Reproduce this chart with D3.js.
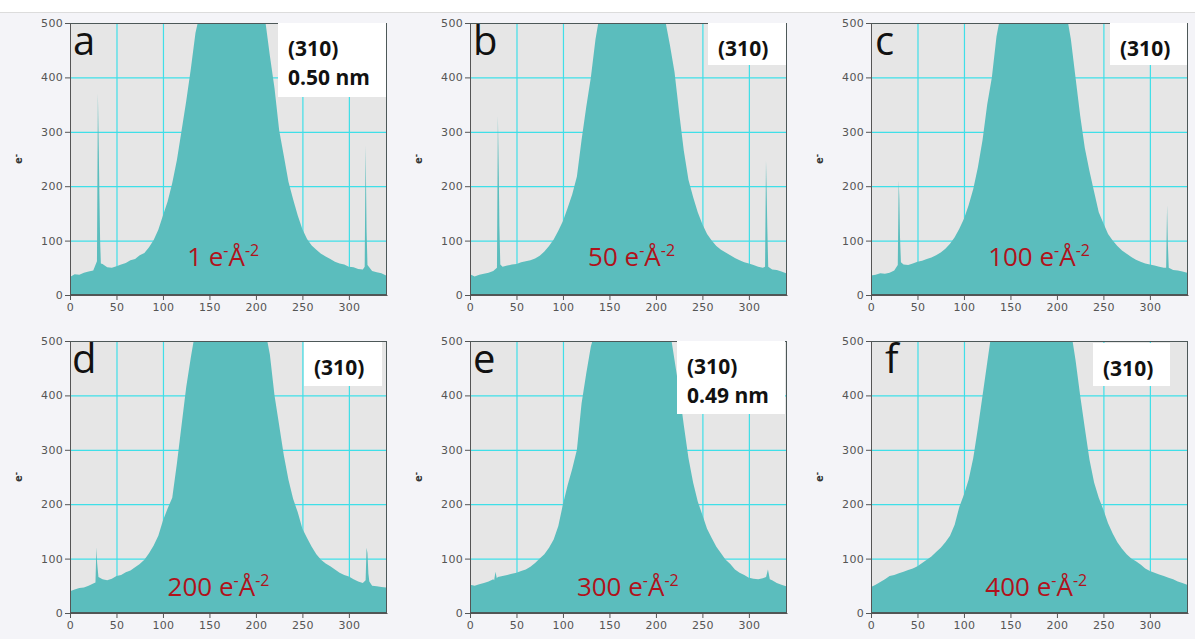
<!DOCTYPE html>
<html>
<head>
<meta charset="utf-8">
<script src="https://cdn.jsdelivr.net/npm/d3@7"></script>
<style>
  body { margin: 0; background: #f4f4f8; }
  svg { display: block; }
  .tick text { font-family: "DejaVu Sans", sans-serif; font-size: 11px; fill: #555; letter-spacing: 0.3px; }
  .tick line, .domain { stroke: #555; }
</style>
</head>
<body>
<svg width="1195" height="639"></svg>
<script>

// panel letters, dose labels and legend box lines
const panelIds = ["a", "b", "c", "d", "e", "f"];
const doses = ["1", "50", "100", "200", "300", "400"];
const boxLines = [["(310)", "0.50 nm"], ["(310)"], ["(310)"], ["(310)"], ["(310)", "0.49 nm"], ["(310)"]];

const xTicks = [0, 50, 100, 150, 200, 250, 300];
const yTicks = [0, 100, 200, 300, 400, 500];

// profile sampled every 5 px (0..340)
const binX = d3.range(0, 341, 5);

const countsA = [33,38,37,41,43,45,55,57,51,50, 53,56,59,64,66,73,77,88,101,120,
  146,172,206,248,302,356,416,482,560,620, 660,690,700,710,710,705,700,690,670,640,
  600,555,505,440,380,303,256,208,176,146, 121,103,91,83,76,71,66,61,58,56,
  52,51,48,47,50,44,42,40,36];
const countsB = [38,34,37,39,41,44,48,52,54,56, 57,60,62,64,67,72,80,90,102,118,
  136,160,185,218,285,345,400,470,540,600, 650,680,700,710,710,705,700,690,670,640,
  590,545,505,460,410,335,265,212,180,152, 130,112,100,90,83,78,73,68,64,60,
  58,55,52,50,48,47,46,43,40];
const countsC = [36,37,40,39,41,45,52,56,55,58, 61,63,66,69,73,78,85,94,106,122,
  140,165,195,235,285,350,400,475,545,600, 650,680,700,710,710,705,700,690,670,640,
  600,555,520,470,400,330,270,228,190,152, 132,112,100,90,82,76,70,65,61,58,
  56,54,52,50,48,46,45,43,41];
const countsD = [40,43,46,47,50,54,65,62,60,63, 68,70,75,78,84,90,98,110,124,142,
  170,192,212,275,345,415,470,540,600,640, 670,690,700,710,710,705,700,690,670,640,
  600,555,530,475,400,345,290,245,210,185, 155,138,122,108,98,91,86,80,74,70,
  67,62,58,55,60,50,49,48,47];
const countsE = [52,50,53,55,58,62,66,68,70,72, 74,77,80,85,92,100,108,120,135,160,
  200,235,265,300,385,440,490,545,600,640, 670,690,700,710,710,705,700,690,670,640,
  610,590,570,525,465,410,345,285,240,205, 180,155,138,122,110,98,90,80,74,70,
  65,63,62,64,72,60,55,52,49];
const countsF = [48,52,57,62,68,70,73,76,79,82, 86,92,98,104,112,120,130,142,162,195,
  218,245,285,340,400,460,520,580,630,660, 680,700,710,710,710,705,700,690,670,640,
  610,580,560,530,465,400,340,282,240,212, 190,165,146,130,118,108,100,95,89,82,
  77,74,71,68,65,62,58,55,52];

// narrow lattice spikes [x, e-]
const spikesA = [[[29,62],[30,370],[31,265],[31.6,185],[32.4,100],[33.2,58]], [[317,52],[318,275],[319,120],[320,55]]];
const spikesB = [[[29,50],[30,329],[31,219],[31.6,127],[32.6,56]], [[317.4,52],[318.4,247],[319.1,193],[319.8,125],[320.8,52]]];
const spikesC = [[[28.8,55],[29.8,211],[30.5,177],[31.2,107],[32.2,60]], [[317.5,50],[318.5,165],[319.3,95],[320.3,50]]];
const spikesD = [[[27.4,56],[28.4,121],[29.2,92],[30.6,66]], [[318,60],[319,120],[320,110],[321,72],[322,58]]];
const spikesE = [[[26,60],[27.4,76],[28.8,64]], [[318.5,66],[320.5,80],[322.5,62]]];
const spikesF = [];

const counts = [countsA, countsB, countsC, countsD, countsE, countsF];
const spikes = [spikesA, spikesB, spikesC, spikesD, spikesE, spikesF];

// layout
const frames = [
  {left: 70,  top: 23,  box: [278, 23, 108, 74], letterDx: 3,  doseX: 126},
  {left: 470, top: 23,  box: [708, 23, 78, 42],  letterDx: 3,  doseX: 127},
  {left: 871, top: 23,  box: [1110, 23, 77, 42], letterDx: 4,  doseX: 126},
  {left: 70,  top: 341, box: [304, 342, 78, 44], letterDx: 2,  doseX: 105},
  {left: 470, top: 341, box: [677, 341, 108, 73], letterDx: 3, doseX: 115},
  {left: 871, top: 341, box: [1093, 343, 77, 43], letterDx: 14, doseX: 123}
];
const W = 317, H = 272;

const svg = d3.select('svg');

svg.append('rect').attr('width', 1195).attr('height', 12).attr('fill', '#fff');
svg.append('line').attr('x1', 0).attr('x2', 1195).attr('y1', 12.5).attr('y2', 12.5).attr('stroke', '#dcdcdc');

svg.append('clipPath').attr('id', 'plotclip')
  .append('rect').attr('width', W).attr('height', H);

const x = d3.scaleLinear().domain([0, 341]).range([0, W]);
const y = d3.scaleLinear().domain([0, 500]).range([H, 0]);

const area = d3.area()
  .x(d => x(d[0]))
  .y0(H)
  .y1(d => y(Math.min(d[1], 520)));

function profile(vals, sp) {
  const pts = binX.map((bx, j) => [bx, vals[j]])
    .filter(pt => !sp.some(s => pt[0] >= s[0][0] && pt[0] <= s[s.length - 1][0]));
  sp.forEach(s => s.forEach(pt => pts.push(pt)));
  return pts.sort((a, b) => a[0] - b[0]);
}

frames.forEach((f, i) => {
  const g = svg.append('g').attr('transform', `translate(${f.left},${f.top})`);

  g.append('rect').attr('width', W).attr('height', H).attr('fill', '#e6e6e6');

  g.selectAll('.vgrid').data(xTicks.slice(1)).enter().append('line')
    .attr('x1', d => x(d) + 0.5).attr('x2', d => x(d) + 0.5)
    .attr('y1', 0).attr('y2', H)
    .attr('stroke', '#3fdfe8').attr('stroke-width', 1.2);
  g.selectAll('.hgrid').data(yTicks.slice(1, -1)).enter().append('line')
    .attr('x1', 0).attr('x2', W)
    .attr('y1', d => y(d) + 0.5).attr('y2', d => y(d) + 0.5)
    .attr('stroke', '#3fdfe8').attr('stroke-width', 1.2);

  g.append('path')
    .datum(profile(counts[i], spikes[i]))
    .attr('d', area)
    .attr('fill', '#5bbdbd')
    .attr('clip-path', 'url(#plotclip)');

  g.append('rect').attr('x', 0.5).attr('y', 0.5).attr('width', W - 1).attr('height', H - 1)
    .attr('fill', 'none').attr('stroke', '#4d5858');

  g.append('g')
    .attr('transform', `translate(0,${H})`)
    .call(d3.axisBottom(x).tickValues(xTicks).tickSize(5).tickSizeOuter(0).tickPadding(3));
  g.append('g')
    .call(d3.axisLeft(y).tickValues(yTicks).tickSize(5).tickSizeOuter(0).tickPadding(2));

  // y label
  const yl = svg.append('text')
    .attr('transform', `translate(${f.left - 52},${f.top + H / 2}) rotate(-90)`)
    .attr('text-anchor', 'middle')
    .attr('dy', '0.35em')
    .style('font-family', 'DejaVu Sans, sans-serif')
    .style('font-size', '10px')
    .style('font-weight', 'bold')
    .style('fill', '#333');
  yl.append('tspan').text('e');
  yl.append('tspan').attr('dy', -3).style('font-size', '8px').text('-');

  // panel letter
  svg.append('text')
    .attr('x', f.left + f.letterDx).attr('y', f.top + 32)
    .style('font-family', 'Open Sans, sans-serif')
    .style('font-size', '40px')
    .style('fill', '#111')
    .text(panelIds[i]);

  // legend box
  const b = f.box;
  svg.append('rect').attr('x', b[0]).attr('y', b[1]).attr('width', b[2]).attr('height', b[3])
    .attr('fill', '#fff');
  boxLines[i].forEach((t, k) => {
    svg.append('text')
      .attr('x', b[0] + 10).attr('y', b[1] + 33 + k * 29)
      .style('font-family', 'Open Sans, sans-serif')
      .style('font-size', '21px')
      .style('font-weight', 'bold')
      .style('fill', '#111')
      .text(t);
  });

  // dose label
  const dt = svg.append('text')
    .attr('x', f.left + x(f.doseX)).attr('y', f.top + (i < 3 ? 243 : 255))
    .style('font-family', 'Open Sans, sans-serif')
    .style('font-size', '26px')
    .style('fill', '#b0121b');
  dt.append('tspan').text(doses[i] + ' e');
  dt.append('tspan').attr('dy', -10).style('font-size', '16px').text('-');
  dt.append('tspan').attr('dy', 10).text('Å');
  dt.append('tspan').attr('dy', -10).style('font-size', '16px').text('-2');
});

</script>
</body>
</html>
